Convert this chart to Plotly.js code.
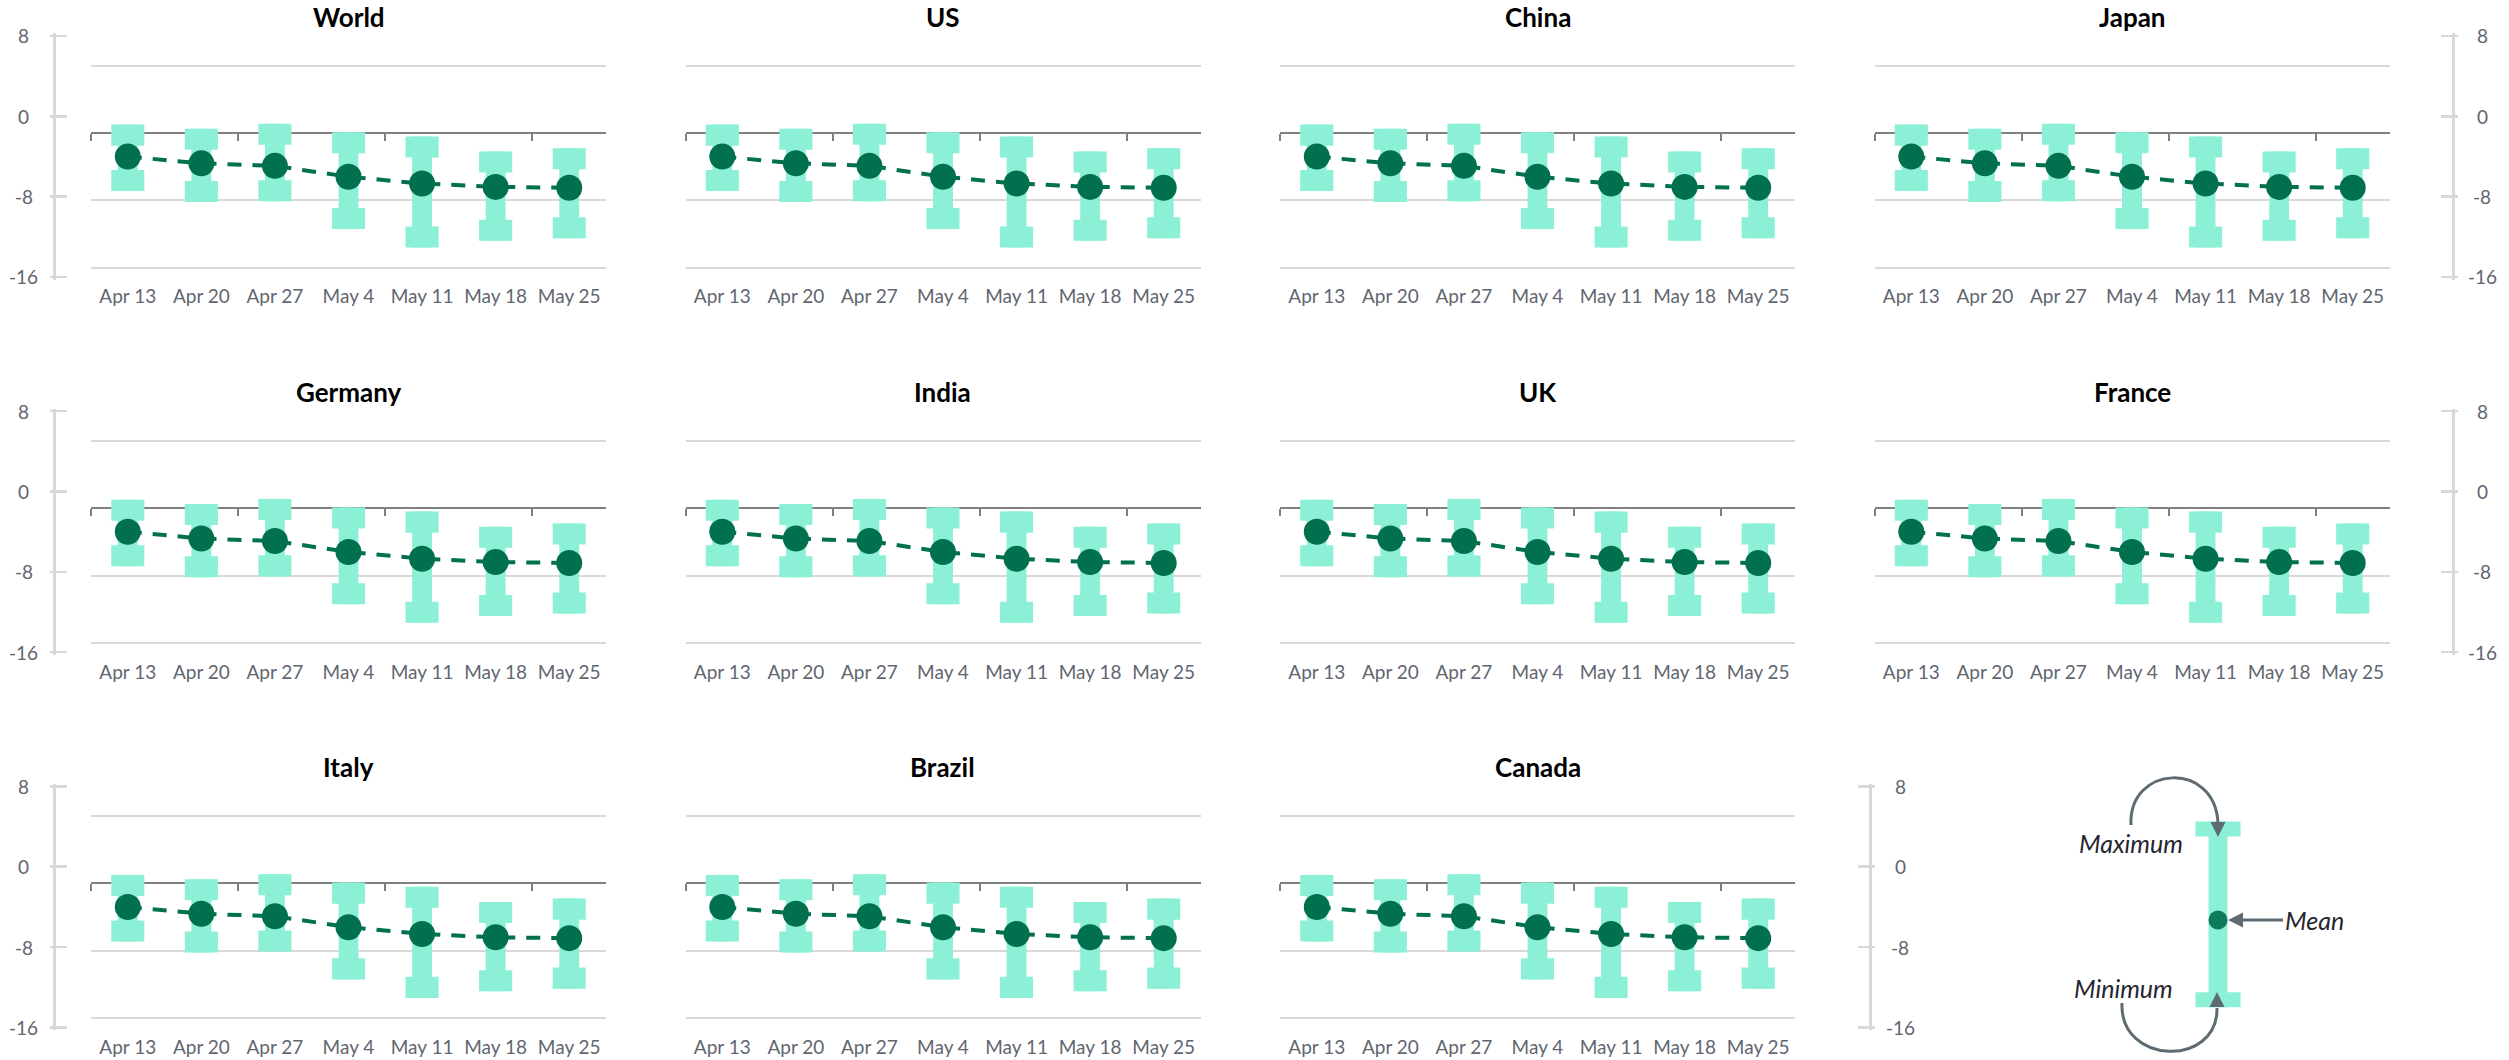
<!DOCTYPE html>
<html>
<head>
<meta charset="utf-8">
<script src="https://cdn.plot.ly/plotly-3.0.1.min.js"></script>
<style>
  html, body { margin: 0; padding: 0; background: #ffffff; }
  #chart { width: 2509px; height: 1060px; }
</style>
</head>
<body>
<div id="chart"></div>
<script>
// Weekly range (minimum / mean / maximum) per economy
const countries = ['World', 'US', 'China', 'Japan', 'Germany', 'India', 'UK', 'France', 'Italy', 'Brazil', 'Canada'];
const weeks = ['Apr 13', 'Apr 20', 'Apr 27', 'May 4', 'May 11', 'May 18', 'May 25'];
const meanVals = [-2.8, -3.6, -3.9, -5.2, -6.0, -6.4, -6.5];
const maxVals  = [1.0, 0.5, 1.1, 0.1, -0.4, -2.2, -1.8];
const minVals  = [-6.9, -8.2, -8.1, -11.4, -13.6, -12.8, -12.5];
const yTicks = [8, 0, -8, -16];

// key panel values
const keyMax = 4.5;
const keyMean = -5.3;
const keyMin = -14;
const keyLabels = ['Maximum', 'Mean', 'Minimum'];

// ---- page geometry (pixels) ----
const W = 2509, H = 1060;
const colPitch = 594.5, rowPitch = 375.2;
const plotLeft0 = 91, plotWidth = 515;
const gridTop0 = 65.7, gridBottom0 = 267.7;   // rows of the 8 and -16 gridlines
const axisTop0 = 36, axisBottom0 = 277;       // rows of the 8 and -16 side-axis ticks
const yLo = -16, yHi = 8;
const px = v => v / W;
const py = v => 1 - v / H;

// ---- styles ----
const MINT = '#8cf0d7';
const DARK = '#00704f';
const GRID = '#d9d9d9';
const AXIS = '#808080';
const SIDE = '#d5d9dc';
const TICKTXT = '#5f6670';
const ARROW = '#5f6b73';
const FONT = 'Lato, "Open Sans", sans-serif';
const capH = 2.5;        // cap thickness in value units
const capW = 0.45, stemW = 0.27;

const axId = (l, n) => l + (n === 1 ? '' : n);
const axKey = (l, n) => l + 'axis' + (n === 1 ? '' : n);

const data = [];
const annotations = [];
const shapes = [];
const layout = {
  width: W, height: H, autosize: false,
  margin: { l: 0, r: 0, t: 0, b: 0, pad: 0 },
  paper_bgcolor: '#ffffff', plot_bgcolor: 'rgba(0,0,0,0)',
  showlegend: false, barmode: 'overlay', hovermode: false,
  font: { family: FONT, color: TICKTXT }
};

const xIdx = weeks.map((_, i) => i);
const ppu = (gridBottom0 - gridTop0) / (yHi - yLo);
const padU = 0.2;

countries.forEach((name, i) => {
  const r = Math.floor(i / 4), c = i % 4, k = i + 1;
  const L = plotLeft0 + c * colPitch, R = L + plotWidth;
  const T = gridTop0 + r * rowPitch - padU * ppu;
  const B = gridBottom0 + r * rowPitch + padU * ppu;
  const xa = axId('x', k), ya = axId('y', k);

  layout[axKey('x', k)] = {
    domain: [px(L), px(R)], range: [-0.5, 6.5], anchor: ya,
    tickmode: 'array', tickvals: xIdx, ticktext: weeks, ticks: '',
    showgrid: false, zeroline: false, showline: false,
    tickfont: { family: FONT, size: 19, color: TICKTXT },
    ticklabelstandoff: 14, fixedrange: true
  };
  layout[axKey('y', k)] = {
    domain: [py(B), py(T)], range: [yLo - padU, yHi + padU], anchor: xa,
    tickmode: 'array', tickvals: yTicks, showticklabels: false, ticks: '',
    showgrid: true, gridcolor: GRID, gridwidth: 2, zeroline: false, showline: false,
    fixedrange: true
  };

  // category axis drawn through zero, tick every two weeks
  const zeroRow = gridTop0 + r * rowPitch + (yHi - 0) * ppu;
  const zk = 20 + k;
  layout[axKey('x', zk)] = {
    overlaying: xa, anchor: 'free', position: py(zeroRow), side: 'bottom',
    range: [-0.5, 6.5], tickmode: 'array', tickvals: [-0.5, 1.5, 3.5, 5.5],
    ticks: 'outside', ticklen: 7, tickwidth: 2, tickcolor: AXIS,
    showline: true, linecolor: AXIS, linewidth: 2,
    showticklabels: false, showgrid: false, zeroline: false,
    layer: 'below traces', fixedrange: true
  };
  data.push({ type: 'scatter', x: [], y: [], xaxis: axId('x', zk), yaxis: ya, hoverinfo: 'skip', showlegend: false });

  // stem between minimum and maximum
  data.push({
    type: 'bar', x: xIdx, base: minVals, y: maxVals.map((v, j) => v - minVals[j]),
    width: stemW, marker: { color: MINT, line: { width: 0 } },
    xaxis: xa, yaxis: ya, hoverinfo: 'skip'
  });
  // maximum cap
  data.push({
    type: 'bar', x: xIdx, base: maxVals, y: maxVals.map(() => -capH),
    width: capW, marker: { color: MINT, line: { width: 0 } },
    xaxis: xa, yaxis: ya, hoverinfo: 'skip'
  });
  // minimum cap
  data.push({
    type: 'bar', x: xIdx, base: minVals, y: minVals.map(() => capH),
    width: capW, marker: { color: MINT, line: { width: 0 } },
    xaxis: xa, yaxis: ya, hoverinfo: 'skip'
  });
  // mean
  data.push({
    type: 'scatter', mode: 'lines+markers', x: xIdx, y: meanVals,
    line: { color: DARK, width: 4, dash: '14px,11px' },
    marker: { color: DARK, size: 26 },
    xaxis: xa, yaxis: ya, hoverinfo: 'skip'
  });

  annotations.push({
    xref: 'paper', yref: 'paper', x: px((L + R) / 2), y: py(17 + r * rowPitch),
    xanchor: 'center', yanchor: 'middle', showarrow: false,
    text: '<b>' + name + '</b>', font: { family: FONT, size: 26, color: '#000000' }
  });
});

// ---- side value axes ----
const sideAxes = [
  { r: 0, side: 'left',  lineX: 54,   labelX: 24,   xa: 1 },
  { r: 1, side: 'left',  lineX: 54,   labelX: 24,   xa: 5 },
  { r: 2, side: 'left',  lineX: 54,   labelX: 24,   xa: 9 },
  { r: 0, side: 'right', lineX: 2453, labelX: 2482, xa: 4 },
  { r: 1, side: 'right', lineX: 2453, labelX: 2482, xa: 8 },
  { r: 2, side: 'right', lineX: 1870, labelX: 1900, xa: 12 }
];
const ppu2 = (axisBottom0 - axisTop0) / (yHi - yLo);
const extU = 0.25;
let keyAxis = null;
sideAxes.forEach((s, j) => {
  const n = 40 + 2 * j;
  const T = axisTop0 + s.r * rowPitch - extU * ppu2;
  const B = axisBottom0 + s.r * rowPitch + extU * ppu2;
  const common = {
    range: [yLo - extU, yHi + extU], anchor: 'free', position: px(s.lineX), side: s.side,
    tickmode: 'array', tickvals: yTicks, showticklabels: false,
    showgrid: false, zeroline: false, fixedrange: true, tickwidth: 2.5, tickcolor: SIDE
  };
  layout[axKey('y', n)] = Object.assign({}, common, {
    domain: [py(B), py(T)], showline: true, linecolor: SIDE, linewidth: 3,
    ticks: 'inside', ticklen: 11
  });
  layout[axKey('y', n + 1)] = Object.assign({}, common, {
    overlaying: axId('y', n), showline: false, ticks: 'outside', ticklen: 4
  });
  data.push({ type: 'scatter', x: [], y: [], xaxis: axId('x', s.xa), yaxis: axId('y', n), hoverinfo: 'skip', showlegend: false });
  data.push({ type: 'scatter', x: [], y: [], xaxis: axId('x', s.xa), yaxis: axId('y', n + 1), hoverinfo: 'skip', showlegend: false });
  yTicks.forEach(v => annotations.push({
    xref: 'paper', x: px(s.labelX), yref: axId('y', n), y: v,
    xanchor: 'center', yanchor: 'middle', showarrow: false,
    text: String(v), font: { family: FONT, size: 19, color: TICKTXT }
  }));
  if (s.xa === 12) keyAxis = axId('y', n);
});

// ---- key panel ----
layout.xaxis12 = {
  domain: [px(2118), px(2318)], range: [-0.5, 0.5], anchor: keyAxis,
  visible: false, fixedrange: true
};
const keyCapH = 1.5, keyCapW = 0.225, keyStemW = 0.095;
data.push({
  type: 'bar', x: [0], base: [keyMin], y: [keyMax - keyMin], width: keyStemW,
  marker: { color: MINT, line: { width: 0 } }, xaxis: 'x12', yaxis: keyAxis, hoverinfo: 'skip'
});
data.push({
  type: 'bar', x: [0], base: [keyMax], y: [-keyCapH], width: keyCapW,
  marker: { color: MINT, line: { width: 0 } }, xaxis: 'x12', yaxis: keyAxis, hoverinfo: 'skip'
});
data.push({
  type: 'bar', x: [0], base: [keyMin], y: [keyCapH], width: keyCapW,
  marker: { color: MINT, line: { width: 0 } }, xaxis: 'x12', yaxis: keyAxis, hoverinfo: 'skip'
});
data.push({
  type: 'scatter', mode: 'markers', x: [0], y: [keyMean],
  marker: { color: '#0f7a5c', size: 19 }, xaxis: 'x12', yaxis: keyAxis, hoverinfo: 'skip'
});

const keyFont = { family: FONT, size: 25, color: '#262630' };
annotations.push({
  xref: 'x12', yref: keyAxis, x: 0, y: keyMax, xshift: -87, yshift: -21,
  showarrow: false, xanchor: 'center', yanchor: 'middle',
  text: '<i>' + keyLabels[0] + '</i>', font: keyFont
});
annotations.push({
  xref: 'x12', yref: keyAxis, x: 0, y: keyMean, ax: 96, ay: 0,
  showarrow: true, arrowhead: 2, arrowsize: 1, arrowwidth: 3, arrowcolor: ARROW, standoff: 10,
  text: '<i>' + keyLabels[1] + '</i>', font: keyFont
});
annotations.push({
  xref: 'x12', yref: keyAxis, x: 0, y: keyMin, xshift: -95, yshift: 19,
  showarrow: false, xanchor: 'center', yanchor: 'middle',
  text: '<i>' + keyLabels[2] + '</i>', font: keyFont
});

// curved pointers to the caps
const P = (x, y) => px(x).toFixed(5) + ',' + py(y).toFixed(5);
shapes.push({
  type: 'path', xref: 'paper', yref: 'paper', line: { color: ARROW, width: 3 },
  path: 'M' + P(2131, 825) + ' C' + P(2128, 765) + ' ' + P(2215, 760) + ' ' + P(2218, 823)
});
shapes.push({
  type: 'path', xref: 'paper', yref: 'paper', line: { width: 0 }, fillcolor: ARROW,
  path: 'M' + P(2210.5, 822) + ' L' + P(2225.5, 822) + ' L' + P(2218, 837) + ' Z'
});
shapes.push({
  type: 'path', xref: 'paper', yref: 'paper', line: { color: ARROW, width: 3 },
  path: 'M' + P(2122, 1003) + ' C' + P(2119, 1065) + ' ' + P(2218, 1068) + ' ' + P(2217, 1008)
});
shapes.push({
  type: 'path', xref: 'paper', yref: 'paper', line: { width: 0 }, fillcolor: ARROW,
  path: 'M' + P(2209.5, 1007) + ' L' + P(2224.5, 1007) + ' L' + P(2217, 992) + ' Z'
});

layout.annotations = annotations;
layout.shapes = shapes;

Plotly.newPlot('chart', data, layout, { staticPlot: true, displayModeBar: false });
</script>
</body>
</html>
